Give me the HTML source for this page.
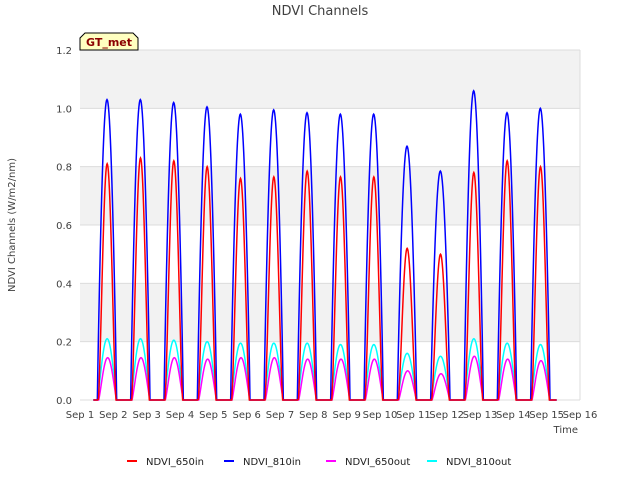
<!DOCTYPE html>
<html><head><meta charset="utf-8">
<style>
body{margin:0;background:#fff;font-family:"Liberation Sans","DejaVu Sans",sans-serif;}
svg text{font-family:"DejaVu Sans","Liberation Sans",sans-serif;}
</style></head>
<body>
<svg id="chart" width="640" height="480" viewBox="0 0 640 480">
<rect width="640" height="480" fill="#fff"/>
<text x="320" y="15" text-anchor="middle" font-size="13" fill="#404040">NDVI Channels</text>
<g id="bands"></g>
<g id="grid"></g>
<g id="series"></g>
<g id="axes"></g>
<text x="15" y="225" transform="rotate(-90 15 225)" text-anchor="middle" font-size="10" fill="#404040">NDVI Channels (W/m2/nm)</text>
<text x="578" y="433" text-anchor="end" font-size="10" fill="#404040">Time</text>
<g>
<path d="M80,50 L80,38 L85,33 L133,33 L138,38 L138,50 Z" fill="#ffffc0" stroke="#000" stroke-width="1"/>
<text x="109" y="46" text-anchor="middle" font-size="11" font-weight="bold" fill="#8b0000">GT_met</text>
</g>
<g id="legend"></g>
</svg>
<script>
const days = ["Sep 1","Sep 2","Sep 3","Sep 4","Sep 5","Sep 6","Sep 7","Sep 8","Sep 9","Sep 10","Sep 11","Sep 12","Sep 13","Sep 14","Sep 15","Sep 16"];
const yTicks = [0.0,0.2,0.4,0.6,0.8,1.0,1.2];
const ndvi810in = [1.03,1.03,1.02,1.005,0.98,0.995,0.985,0.98,0.98,0.87,0.785,1.06,0.985,1.0];
const ndvi650in = [0.81,0.83,0.82,0.80,0.76,0.765,0.785,0.765,0.765,0.52,0.5,0.78,0.82,0.8];
const ndvi810out = [0.21,0.21,0.205,0.2,0.195,0.195,0.195,0.19,0.19,0.16,0.15,0.21,0.195,0.19];
const ndvi650out = [0.145,0.145,0.145,0.14,0.145,0.145,0.14,0.14,0.14,0.1,0.09,0.15,0.14,0.135];

const X0=80,X1=580,Y0=400,Y1=50;
const xs=d=>X0+(d/15)*(X1-X0);
const ys=v=>Y0-(v/1.2)*(Y0-Y1);
const NS="http://www.w3.org/2000/svg";
function mk(tag,attrs,parent){const e=document.createElementNS(NS,tag);for(const k in attrs)e.setAttribute(k,attrs[k]);parent.appendChild(e);return e;}

const bands=document.getElementById('bands');
for(let i=0;i<yTicks.length-1;i+=2){
  const r=mk('rect',{x:X0,y:ys(Math.min(1.2,yTicks[i+1]+0.2)),width:X1-X0,height:ys(yTicks[i+1])-ys(Math.min(1.2,yTicks[i+1]+0.2)),fill:'#f2f2f2'},bands);
  
  
}
const grid=document.getElementById('grid');
yTicks.forEach(v=>{
  const l=mk('line',{x1:X0,x2:X1,y1:ys(v),y2:ys(v),stroke:'#dcdcdc','stroke-width':1},grid);
  
  
});
mk('line',{x1:X1,x2:X1,y1:Y1,y2:Y0,stroke:'#dcdcdc'},grid);

const axes=document.getElementById('axes');
yTicks.forEach(v=>{
  const t=mk('text',{x:X0-8,y:ys(v)+4,'text-anchor':'end','font-size':10,fill:'#404040'},axes);
  t.textContent=v.toFixed(1);
  
  
});
days.forEach((d,i)=>{
  const t=mk('text',{x:xs(i),y:Y0+18,'text-anchor':'middle','font-size':10,fill:'#404040'},axes);
  t.textContent=d;
  
  
});

function path(peaks,start,end,pow){
  let d=`M${xs(0.4)},${ys(0)}`;
  peaks.forEach((p,i)=>{
    const a=i+start,b=i+end;
    d+=` L${xs(a)},${ys(0)}`;
    for(let k=0;k<=40;k++){
      const t=k/40;
      const s=Math.pow(Math.sin(Math.PI*t),pow);
      d+=` L${xs(a+(b-a)*t).toFixed(2)},${ys(p*s).toFixed(2)}`;
    }
  });
  d+=` L${xs(14.3)},${ys(0)}`;
  return d;
}
const series=document.getElementById('series');
const defs=[[ndvi810out,'#00ffff',0.53,1.1,1.1,'ndvi-810out-line'],[ndvi650out,'#ff00ff',0.56,1.1,1.2,'ndvi-650out-line'],[ndvi810in,'#0000ff',0.52,1.1,0.9,'ndvi-810in-line'],[ndvi650in,'#ff0000',0.55,1.08,1.4,'ndvi-650in-line']];
defs.forEach(([arr,c,s,e,p,n])=>{
  const el=mk('path',{d:path(arr,s,e,p),fill:'none',stroke:c,'stroke-width':1.5},series);
  
  
});

const legend=document.getElementById('legend');
[['NDVI_650in','#ff0000',127],['NDVI_810in','#0000ff',224],['NDVI_650out','#ff00ff',326],['NDVI_810out','#00ffff',427]].forEach(([n,c,x])=>{
  const g=mk('g',{},legend);
  
  
  mk('line',{x1:x,x2:x+10,y1:461,y2:461,stroke:c,'stroke-width':2},g);
  const t=mk('text',{x:x+19,y:465,'font-size':10,fill:'#202020'},g);
  t.textContent=n;
});
</script>
</body></html>
